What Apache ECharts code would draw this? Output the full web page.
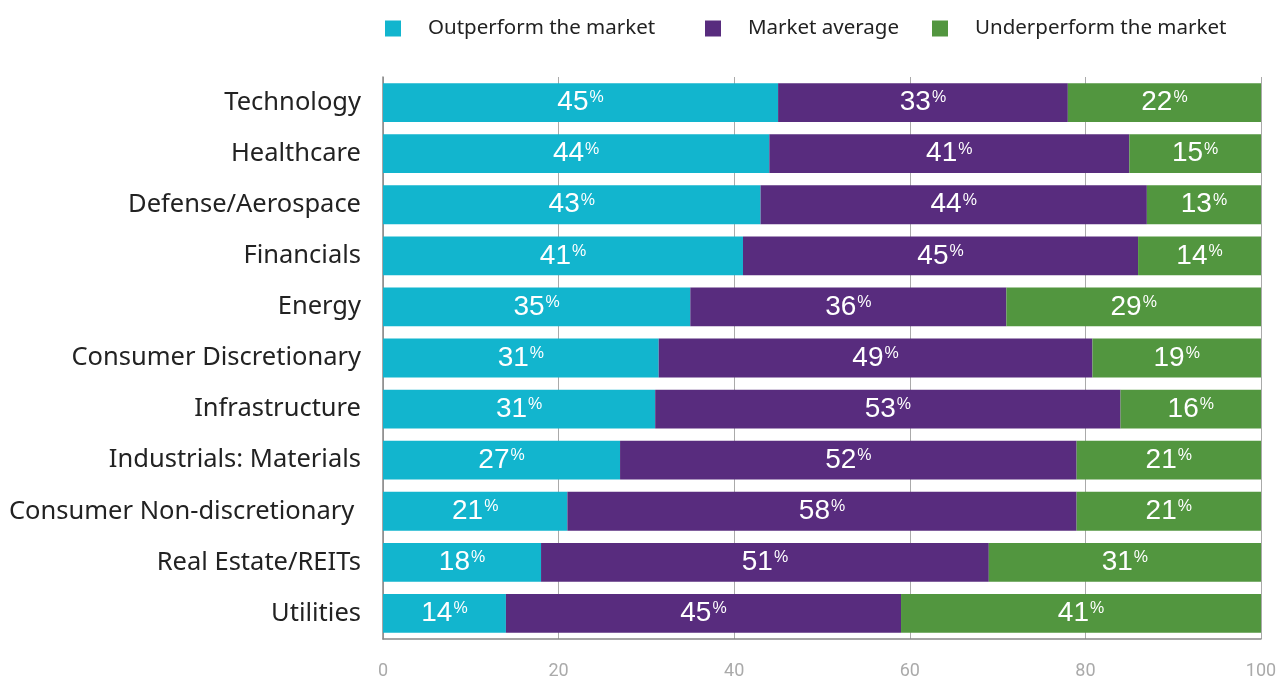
<!DOCTYPE html>
<html>
<head>
<meta charset="utf-8">
<script src="https://cdn.jsdelivr.net/npm/echarts@6/dist/echarts.min.js"></script>
<style>
  html, body { margin: 0; padding: 0; background: #fff; }
  #chart { width: 1280px; height: 680px; }
</style>
</head>
<body>
<div id="chart"></div>
<script>
// sectors, top to bottom
const sectors = ['Technology', 'Healthcare', 'Defense/Aerospace', 'Financials', 'Energy',
  'Consumer Discretionary', 'Infrastructure', 'Industrials: Materials',
  'Consumer Non-discretionary ', 'Real Estate/REITs', 'Utilities'];
// shares in %, labels show the rounded value
const outperform = [45, 44, 43, 41, 35, 31.4, 31, 27, 21, 18, 14];
const average = [33, 41, 44, 45, 36, 49.4, 53, 52, 58, 51, 45];
const underperform = [22, 15, 13, 14, 29, 19.2, 16, 21, 21, 31, 41];
const xTicks = [0, 20, 40, 60, 80, 100];

const names = ['Outperform the market', 'Market average', 'Underperform the market'];
const colors = ['#12b5ce', '#582c7e', '#52963f'];
const legendLeft = [380, 700, 927];

const chart = echarts.init(document.getElementById('chart'));

// value with small raised percent sign
const valueLabel = {
  show: true,
  position: 'inside',
  formatter: p => '{v|' + Math.round(p.value) + '}{p|%}',
  rich: {
    v: { color: '#fff', fontSize: 28, fontFamily: 'Liberation Sans', verticalAlign: 'bottom' },
    p: { color: '#fff', fontSize: 16, fontFamily: 'Liberation Sans', padding: [0, 0, 9, 1] }
  }
};

function bar(i, data) {
  return {
    name: names[i],
    type: 'bar',
    stack: 'total',
    data: data,
    barCategoryGap: '24%',
    itemStyle: { color: colors[i] },
    label: valueLabel,
    emphasis: { disabled: true }
  };
}

const option = {
  animation: false,
  legend: names.map((n, i) => ({
    top: 13,
    left: legendLeft[i],
    itemWidth: 16,
    itemHeight: 16,
    icon: 'rect',
    textStyle: { fontSize: 20.5, color: '#222', fontFamily: 'Noto Sans', padding: [0, 0, 0, 22] },
    data: [n]
  })),
  grid: { left: 383, right: 19, top: 77, bottom: 41 },
  xAxis: {
    type: 'value',
    min: 0,
    max: 100,
    interval: 20,
    axisLine: { show: true, lineStyle: { color: '#888', width: 1.5 } },
    axisTick: { show: false },
    splitLine: { show: true, lineStyle: { color: '#aaa', width: 1 } },
    axisLabel: {
      color: '#aaa', fontSize: 18, fontFamily: 'Roboto', margin: 23,
      formatter: v => xTicks.includes(v) ? String(v) : ''
    }
  },
  yAxis: {
    type: 'category',
    inverse: true,
    data: sectors,
    axisLine: { show: true, lineStyle: { color: '#888', width: 1.5 } },
    axisTick: { show: false },
    axisLabel: { color: '#222', fontSize: 25.5, fontFamily: 'Noto Sans', margin: 22, padding: [7, 0, 0, 0] }
  },
  series: [
    bar(0, outperform),
    bar(1, average),
    bar(2, underperform)
  ]
};

chart.setOption(option);
</script>
</body>
</html>
